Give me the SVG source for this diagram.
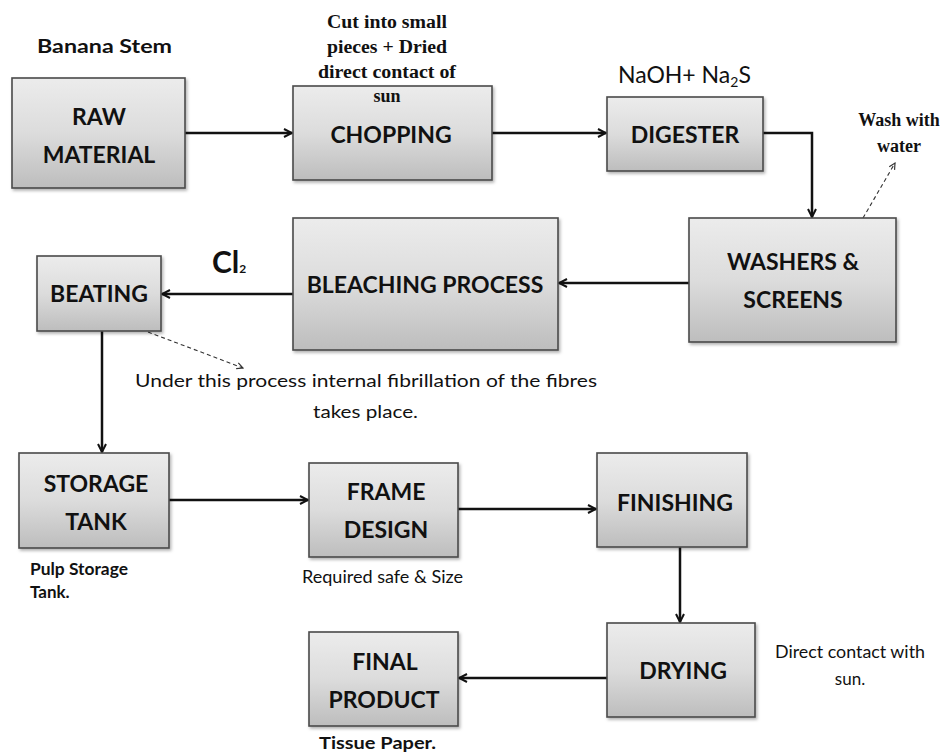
<svg xmlns="http://www.w3.org/2000/svg" width="947" height="753" viewBox="0 0 947 753">
  <style>
    .box { fill: url(#boxFill); stroke: #4a4a4a; stroke-width: 1.6; filter: url(#shadow); }
    .lbl { font-family: Lato, "Liberation Sans", sans-serif; font-weight: bold; font-size: 23px; fill: #111; text-anchor: middle; }
    .note { font-family: Lato, "Liberation Sans", sans-serif; font-size: 17px; fill: #111; }
    .serif { font-family: "Liberation Serif", "DejaVu Serif", serif; font-weight: bold; font-size: 18px; fill: #111; text-anchor: middle; }
    .flow { fill: none; stroke: #111; stroke-width: 2.5; marker-end: url(#head); }
    .dash { fill: none; stroke: #333; stroke-width: 1.1; stroke-dasharray: 4 3; marker-end: url(#thin); }
  </style>
  <defs>
    <linearGradient id="boxFill" x1="0" y1="0" x2="0" y2="1">
      <stop offset="0" stop-color="#ececec"/>
      <stop offset="0.5" stop-color="#dcdcdc"/>
      <stop offset="1" stop-color="#bdbdbd"/>
    </linearGradient>
    <filter id="shadow" x="-10%" y="-10%" width="130%" height="130%">
      <feDropShadow dx="1.5" dy="2" stdDeviation="1.5" flood-color="#000" flood-opacity="0.3"/>
    </filter>
    <marker id="head" viewBox="0 0 10 10" refX="9" refY="5" markerWidth="4" markerHeight="4" orient="auto" markerUnits="strokeWidth">
      <path d="M1,1 L9,5 L1,9" fill="none" stroke="#111" stroke-width="2"/>
    </marker>
    <marker id="thin" viewBox="0 0 10 10" refX="9" refY="5" markerWidth="7" markerHeight="7" orient="auto" markerUnits="strokeWidth">
      <path d="M1,1 L9,5 L1,9" fill="none" stroke="#333" stroke-width="1.5"/>
    </marker>
  </defs>

  <rect width="947" height="753" fill="#fff"/>

  <!-- connectors -->
  <g id="connectors">
    <path class="flow" d="M185,133 H292"/>
    <path class="flow" d="M492,133 H606"/>
    <path class="flow" d="M763,133 H812 V217"/>
    <path class="flow" d="M689,283 H559"/>
    <path class="flow" d="M293,294 H162"/>
    <path class="flow" d="M102,331 V452"/>
    <path class="flow" d="M169,500 H308"/>
    <path class="flow" d="M458,509 H596"/>
    <path class="flow" d="M680,547 V622"/>
    <path class="flow" d="M607,678 H459"/>
    <path class="dash" d="M863,218 L895,163"/>
    <path class="dash" d="M148,332 L243,368"/>
  </g>

  <!-- process nodes -->
  <g id="raw-material">
    <rect class="box" x="12" y="78" width="173" height="110"/>
    <text class="lbl" x="99" y="125">RAW</text>
    <text class="lbl" x="99" y="163">MATERIAL</text>
  </g>
  <g id="chopping">
    <rect class="box" x="293" y="86" width="199" height="94"/>
    <text class="lbl" x="391" y="143">CHOPPING</text>
  </g>
  <g id="digester">
    <rect class="box" x="607" y="97" width="156" height="74"/>
    <text class="lbl" x="685" y="143">DIGESTER</text>
  </g>
  <g id="washers-screens">
    <rect class="box" x="689" y="218" width="207" height="124"/>
    <text class="lbl" x="793" y="270">WASHERS &amp;</text>
    <text class="lbl" x="793" y="308">SCREENS</text>
  </g>
  <g id="bleaching">
    <rect class="box" x="293" y="218" width="265" height="132"/>
    <text class="lbl" x="425" y="293">BLEACHING PROCESS</text>
  </g>
  <g id="beating">
    <rect class="box" x="37" y="256" width="124" height="75"/>
    <text class="lbl" x="99" y="302">BEATING</text>
  </g>
  <g id="storage-tank">
    <rect class="box" x="19" y="453" width="150" height="95"/>
    <text class="lbl" x="96" y="492">STORAGE</text>
    <text class="lbl" x="96" y="530">TANK</text>
  </g>
  <g id="frame-design">
    <rect class="box" x="309" y="463" width="149" height="94"/>
    <text class="lbl" x="386" y="500">FRAME</text>
    <text class="lbl" x="386" y="538">DESIGN</text>
  </g>
  <g id="finishing">
    <rect class="box" x="597" y="453" width="150" height="94"/>
    <text class="lbl" x="675" y="511">FINISHING</text>
  </g>
  <g id="drying">
    <rect class="box" x="607" y="623" width="148" height="94"/>
    <text class="lbl" x="683" y="679">DRYING</text>
  </g>
  <g id="final-product">
    <rect class="box" x="309" y="632" width="149" height="94"/>
    <text class="lbl" x="385" y="670">FINAL</text>
    <text class="lbl" x="384" y="708">PRODUCT</text>
  </g>

  <!-- annotations -->
  <g id="annotations">
    <text x="37" y="53" font-family="Lato, 'Liberation Sans', sans-serif" font-weight="bold" font-size="19" fill="#111" textLength="135" lengthAdjust="spacingAndGlyphs">Banana Stem</text>
    <text class="serif" x="387" y="28" textLength="120" lengthAdjust="spacingAndGlyphs">Cut into small</text>
    <text class="serif" x="387" y="53" textLength="120" lengthAdjust="spacingAndGlyphs">pieces + Dried</text>
    <text class="serif" x="387" y="78" textLength="138" lengthAdjust="spacingAndGlyphs">direct contact of</text>
    <text class="serif" x="387" y="102">sun</text>
    <text x="618" y="83" font-family="Lato, 'Liberation Sans', sans-serif" font-size="23" fill="#111">NaOH+ Na<tspan font-size="14" dy="4">2</tspan><tspan dy="-4">S</tspan></text>
    <text class="serif" x="899" y="126">Wash with</text>
    <text class="serif" x="899" y="152">water</text>
    <text x="212" y="273" font-family="Lato, 'Liberation Sans', sans-serif" font-weight="bold" font-size="30" fill="#111">Cl<tspan font-size="12">2</tspan></text>
    <text class="note" x="135" y="387" font-size="19" textLength="462" lengthAdjust="spacingAndGlyphs">Under this process internal fibrillation of the fibres</text>
    <text class="note" x="313" y="418" font-size="19" textLength="105" lengthAdjust="spacingAndGlyphs">takes place.</text>
    <text class="note" x="30" y="575" font-weight="bold" textLength="98" lengthAdjust="spacingAndGlyphs">Pulp Storage</text>
    <text class="note" x="30" y="598" font-weight="bold">Tank.</text>
    <text class="note" x="302" y="583" textLength="161" lengthAdjust="spacingAndGlyphs">Required safe &amp; Size</text>
    <text class="note" x="775" y="658" textLength="150" lengthAdjust="spacingAndGlyphs">Direct contact with</text>
    <text class="note" x="850" y="685" text-anchor="middle">sun.</text>
    <text class="note" x="319" y="749" font-size="19" font-weight="bold" textLength="117" lengthAdjust="spacingAndGlyphs">Tissue Paper.</text>
  </g>
</svg>
